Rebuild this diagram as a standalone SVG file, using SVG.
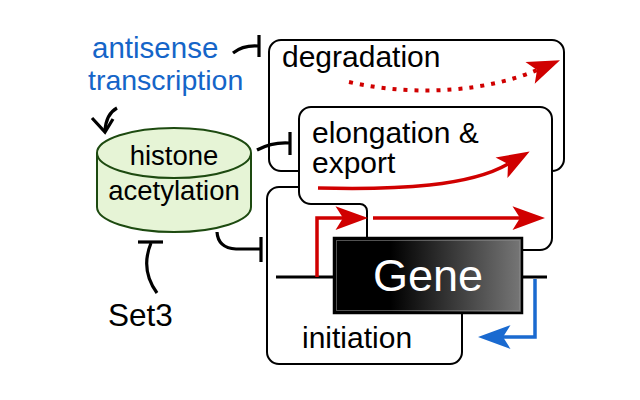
<svg xmlns="http://www.w3.org/2000/svg" width="640" height="400" viewBox="0 0 640 400">
<style>
.box{fill:#fff;stroke:#000;stroke-width:2}
.lbl{font-family:"Liberation Sans",Arial,sans-serif;font-size:30px;fill:#000}
.blue{fill:#1565c8}
.con{fill:none;stroke:#000;stroke-width:3.2;stroke-linecap:butt}
.red{fill:none;stroke:#d00000;stroke-width:3.5}
.bl{fill:none;stroke:#1a6ad0;stroke-width:3.5}
</style>
<defs>
<marker id="ar" markerUnits="userSpaceOnUse" markerWidth="40" markerHeight="40" viewBox="-10 -12 32 24" refX="0" refY="0" orient="auto" overflow="visible">
<path d="M20,0 L-6,-9.5 L0,0 L-6,9.5 z" fill="#d00000"/>
</marker>
<marker id="ab" markerUnits="userSpaceOnUse" markerWidth="40" markerHeight="40" viewBox="-10 -12 32 24" refX="0" refY="0" orient="auto" overflow="visible">
<path d="M20,0 L-6,-9.5 L0,0 L-6,9.5 z" fill="#1a6ad0"/>
</marker>
<linearGradient id="gg" x1="0" y1="0" x2="1" y2="0">
<stop offset="0" stop-color="#000"/>
<stop offset="0.3" stop-color="#000"/>
<stop offset="1" stop-color="#777"/>
</linearGradient>
</defs>
<rect width="640" height="400" fill="#fff"/>

<g id="degradation">
<rect class="box" x="269" y="40" width="295" height="131" rx="12"/>
<text class="lbl" x="282" y="67">degradation</text>
<path d="M349,82 C420,98 490,90 537,70" fill="none" stroke="#d00000" stroke-width="4" stroke-dasharray="4 7" marker-end="url(#ar)"/>
</g>

<g id="initiation">
<rect class="box" x="267" y="187" width="195" height="177" rx="12"/>
<text class="lbl" x="302" y="348">initiation</text>
</g>

<g id="elongation">
<path class="box" d="M311,107 H540 A12 12 0 0 1 552 119 V238 A12 12 0 0 1 540 250 H367 V211 A7 7 0 0 0 360 204 H311 A12 12 0 0 1 299 192 V119 A12 12 0 0 1 311 107 Z"/>
<text class="lbl" x="312" y="143">elongation &amp;</text>
<text class="lbl" x="312" y="173">export</text>
<path class="red" d="M318,188 C400,190 470,186 508,164" marker-end="url(#ar)"/>
</g>

<g id="dna">
<line x1="276" y1="277" x2="547" y2="277" stroke="#000" stroke-width="2.8"/>
<path class="red" d="M317,277 V218 H343" marker-end="url(#ar)"/>
<path class="red" d="M373,218 H520" marker-end="url(#ar)"/>
<path class="bl" d="M535,279 V337 H503" marker-end="url(#ab)"/>
</g>

<g id="gene">
<rect x="334" y="238" width="188" height="75" fill="url(#gg)" stroke="#000" stroke-width="2.5"/>
<rect x="336.5" y="240.5" width="183" height="70" fill="none" stroke="#888" stroke-width="1" opacity="0.6"/>
<text x="428" y="291" text-anchor="middle" font-family="'Liberation Sans',Arial,sans-serif" font-size="45" fill="#fff">Gene</text>
</g>

<g id="histone">
<path d="M97,153 V207 A77 25 0 0 0 251 207 V153" fill="#e6f4d6" stroke="#1d4a10" stroke-width="2"/>
<ellipse cx="174" cy="153" rx="77" ry="25" fill="#e6f4d6" stroke="#1d4a10" stroke-width="2"/>
<text class="lbl" x="174" y="165" text-anchor="middle" style="font-size:27.5px">histone</text>
<text class="lbl" x="174" y="200" text-anchor="middle" style="font-size:27.5px">acetylation</text>
</g>

<g id="antisense">
<text class="lbl blue" x="92" y="58" style="font-size:29.5px">antisense</text>
<text class="lbl blue" x="88" y="90" style="font-size:28.5px">transcription</text>
</g>

<g id="set3">
<text class="lbl" x="108" y="326" style="font-size:31.5px">Set3</text>
</g>

<g id="connectors">
<path class="con" d="M233,53 Q243,45 258,46"/>
<line class="con" x1="259" y1="35" x2="259" y2="57"/>
<path class="con" d="M117,108 Q106,114 105,131"/>
<path class="con" d="M92,118 L105,132 L113,119"/>
<path class="con" d="M257,150 Q272,142 289,143"/>
<line class="con" x1="290" y1="132" x2="290" y2="155"/>
<path class="con" d="M217,232 Q218,248 236,249 H260"/>
<line class="con" x1="261" y1="237" x2="261" y2="262"/>
<path class="con" d="M151,243 Q140,270 157,293"/>
<line class="con" x1="138" y1="242" x2="163" y2="242"/>
</g>
</svg>
